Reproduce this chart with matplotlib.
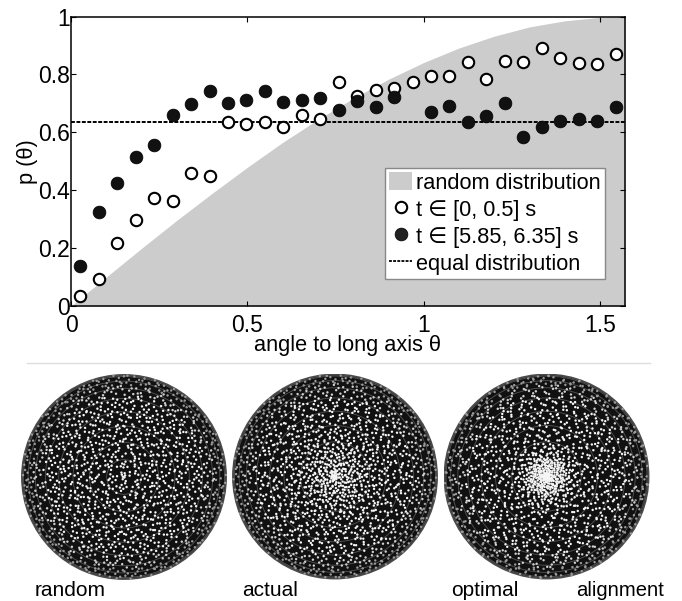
import numpy as np
import matplotlib
matplotlib.use('Agg')
import matplotlib.pyplot as plt
from matplotlib.patches import Circle, Patch
from matplotlib.lines import Line2D

plt.rcParams['font.family'] = ['Liberation Sans', 'DejaVu Sans']

W, H = 682, 601

# bin centres and fractions
theta = [0.026, 0.079, 0.131, 0.183, 0.236, 0.288, 0.340, 0.393, 0.445, 0.497,
         0.550, 0.602, 0.654, 0.707, 0.759, 0.812, 0.864, 0.916, 0.969, 1.021,
         1.073, 1.126, 1.178, 1.230, 1.283, 1.335, 1.388, 1.440, 1.492, 1.545]
p_early = [0.036, 0.092, 0.217, 0.296, 0.374, 0.363, 0.460, 0.449, 0.635, 0.628,
           0.636, 0.617, 0.661, 0.646, 0.775, 0.727, 0.747, 0.752, 0.774, 0.795,
           0.795, 0.844, 0.785, 0.846, 0.844, 0.892, 0.858, 0.840, 0.836, 0.871]
p_late = [0.138, 0.326, 0.425, 0.514, 0.555, 0.661, 0.697, 0.744, 0.702, 0.712,
          0.744, 0.705, 0.710, 0.717, 0.677, 0.709, 0.689, 0.721, np.nan, 0.670,
          0.692, 0.637, 0.657, 0.702, 0.585, 0.620, 0.638, 0.645, 0.638, 0.689]

# outline of the grey area
grey_x = [0, 0.1, 0.2, 0.3, 0.4, 0.5, 0.6, 0.7, 0.8, 0.9, 1.0, 1.1, 1.2, 1.3, 1.4, 1.5, 1.571]
grey_y = [0, 0.10, 0.199, 0.296, 0.389, 0.479, 0.565, 0.644, 0.717, 0.783,
          0.841, 0.891, 0.932, 0.964, 0.985, 0.997, 1.0]
equal_level = 0.637

xticks = [0, 0.5, 1, 1.5]
xticklabels = ['0', '0.5', '1', '1.5']
yticks = [0, 0.2, 0.4, 0.6, 0.8, 1]
yticklabels = ['0', '0.2', '0.4', '0.6', '0.8', '1']

# sphere panels: estimated dot counts per ring, centre to rim.
# Single dots can't be read off at this size, so the rings set the density and
# the dots inside a ring are placed with a Halton sequence (no random numbers).
sphere_names = ['random', 'actual', 'optimal']
counts_random = [16, 46, 76, 105, 130, 160, 185, 210, 225, 300]
counts_actual = [60, 110, 140, 150, 155, 165, 185, 205, 225, 300]
counts_optimal = [120, 180, 140, 110, 120, 145, 175, 200, 225, 300]
sphere_counts = [counts_random, counts_actual, counts_optimal]
grid_r = [0.17, 0.34, 0.50, 0.64, 0.77, 0.87, 0.94, 0.985]


def axes_px(fig, left, top, right, bottom):
    return fig.add_axes([left / W, 1 - bottom / H, (right - left) / W, (bottom - top) / H])


def halton(i, base):
    f, out = 1.0, 0.0
    while i > 0:
        f /= base
        out += f * (i % base)
        i //= base
    return out


fig = plt.figure(figsize=(W / 100, H / 100), dpi=100)

ax = axes_px(fig, 71, 16.5, 625, 306)
ax.fill_between(grey_x, grey_y, 0, color='#cccccc', lw=0, zorder=1)
ax.axhline(equal_level, color='black', ls=(0, (2, 0.8)), lw=1.4, zorder=2)
ax.plot(theta, p_early, 'o', ms=8.2, mfc='white', mec='black', mew=1.5, zorder=3)
ax.plot(theta, p_late, 'o', ms=9.2, mfc='#111111', mec='black', mew=0.5, zorder=4)
ax.set_xlim(0, 1.571)
ax.set_ylim(0, 1)
ax.set_xticks(xticks, xticklabels)
ax.set_yticks(yticks, yticklabels)
ax.tick_params(direction='in', top=True, right=True, length=3.5, width=0.8,
               labelsize=16.5, pad=1)
ax.tick_params(axis='x', pad=6)
for s in ax.spines.values():
    s.set_linewidth(1.1)
ax.set_xlabel('angle to long axis θ', fontsize=15.7, labelpad=-1.5)
ax.set_ylabel('p (θ)', fontsize=15.7, labelpad=0)

handles = [
    Patch(fc='#cccccc', ec='none'),
    Line2D([], [], ls='none', marker='o', ms=8.2, mfc='white', mec='black', mew=1.5),
    Line2D([], [], ls='none', marker='o', ms=9.2, mfc='#222222', mec='black', mew=0.5),
    Line2D([], [], color='black', ls=(0, (1.6, 0.7)), lw=1.3),
]
labels = ['random distribution', 't ∈ [0, 0.5] s', 't ∈ [5.85, 6.35] s', 'equal distribution']
ax.legend(handles, labels, loc='lower left', bbox_to_anchor=(0.5668, 0.0933), fontsize=15.7,
          fancybox=False, framealpha=1, edgecolor='#888888', borderpad=0.2,
          labelspacing=0.25, handlelength=1.05, handleheight=0.9, handletextpad=0.15,
          borderaxespad=0)

# separator between the plot and the spheres
fig.add_artist(Line2D([27 / W, 650 / W], [1 - 363 / H] * 2, color='#dddddd', lw=1))

centres = [(124, 477), (335, 476.5), (546.5, 476.5)]
radius = 102
for k, (cx, cy) in enumerate(centres):
    sax = axes_px(fig, cx - radius - 1, cy - radius - 1, cx + radius + 1, cy + radius + 1)
    sax.set_xlim(-1.01, 1.01)
    sax.set_ylim(-1.01, 1.01)
    sax.set_aspect('equal')
    sax.axis('off')
    sax.add_patch(Circle((0, 0), 1, fc='#111111', ec='#4a4a4a', lw=1.4, zorder=1))
    for r in grid_r:
        sax.add_patch(Circle((0, 0), r, fc='none', ec='#555555', lw=0.6, zorder=2))
    xs, ys, cs = [], [], []
    n = 1 + 311 * k
    for ring, count in enumerate(sphere_counts[k]):
        for _ in range(count):
            r = (ring + halton(n, 2)) / 10
            a = 2 * np.pi * halton(n, 3)
            xs.append(r * np.cos(a))
            ys.append(r * np.sin(a))
            # dots near the rim are foreshortened and read as grey
            cs.append('#9a9a9a' if ring == 9 else '#d0d0d0' if ring == 8 else '#f5f5f5')
            n += 1
    sax.scatter(xs, ys, s=3.0, c=cs, lw=0, zorder=3)

fig.text(35 / W, 1 - 590 / H, 'random', fontsize=15, va='center')
fig.text(242 / W, 1 - 590 / H, 'actual', fontsize=15, va='center')
fig.text(451 / W, 1 - 590 / H, 'optimal', fontsize=15, va='center')
fig.text(576 / W, 1 - 590 / H, 'alignment', fontsize=14.6, va='center')

fig.savefig('out.png', dpi=100)
